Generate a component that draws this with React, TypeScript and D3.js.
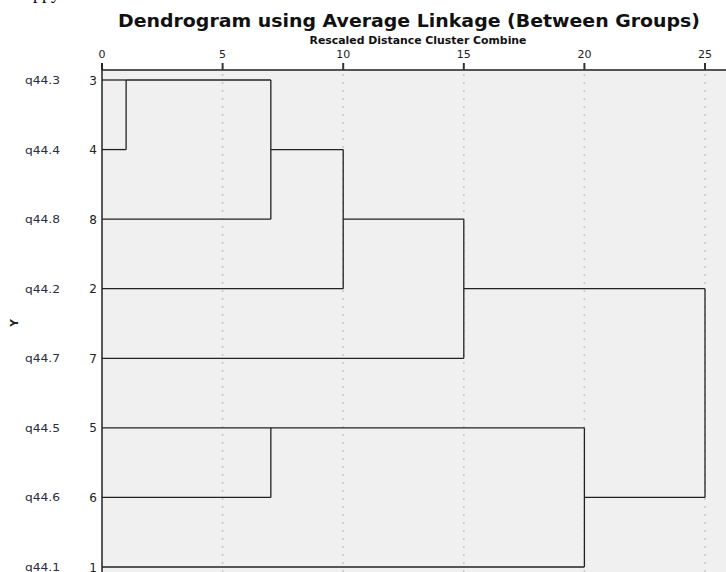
import React from 'react';
import * as d3 from 'd3';

// leaf order top to bottom, as shown in the dendrogram
const labels = ['q44.3', 'q44.4', 'q44.8', 'q44.2', 'q44.7', 'q44.5', 'q44.6', 'q44.1'];
const caseNums = ['3', '4', '8', '2', '7', '5', '6', '1'];

// merges: [child A, child B, rescaled distance]; ids < 8 are leaves, 8+ are earlier merges
const merges: [number, number, number][] = [
  [0, 1, 1],
  [8, 2, 7],
  [9, 3, 10],
  [10, 4, 15],
  [5, 6, 7],
  [12, 7, 20],
  [11, 13, 25],
];

const xTicks = [0, 5, 10, 15, 20, 25];

const W = 726;
const H = 572;
const left = 102;
const axisY = 70;
const font = '"DejaVu Sans", "Lucida Grande", sans-serif';

const App = () => {
  const x = d3.scaleLinear().domain([0, 25]).range([left, 705]);
  const rowIdx = d3.range(labels.length);
  const y = d3.scaleLinear().domain([0, labels.length - 1]).range([80, 567]);

  // each node: row index + x position (distance)
  const nodes: { row: number; d: number }[] = rowIdx.map(i => ({ row: i, d: 0 }));
  const segs: { x1: number; y1: number; x2: number; y2: number }[] = [];
  merges.forEach(([a, b, d]) => {
    const na = nodes[a];
    const nb = nodes[b];
    segs.push({ x1: x(na.d), y1: y(na.row), x2: x(d), y2: y(na.row) });
    segs.push({ x1: x(nb.d), y1: y(nb.row), x2: x(d), y2: y(nb.row) });
    segs.push({ x1: x(d), y1: y(na.row), x2: x(d), y2: y(nb.row) });
    nodes.push({ row: Math.floor((na.row + nb.row) / 2), d });
  });

  return (
    <svg width={W} height={H} style={{ position: 'absolute', left: 0, top: 0 }}>
      <rect width={W} height={H} fill="#fff" />
      <text x={33} y={-1} fontFamily="serif" fontSize={18}>ppy</text>
      <text x={409} y={27} textAnchor="middle" fontFamily={font} fontWeight="bold" fontSize={17}
        textLength={582} lengthAdjust="spacingAndGlyphs" fill="#111">
        Dendrogram using Average Linkage (Between Groups)
      </text>
      <text x={418} y={44} textAnchor="middle" fontFamily={font} fontWeight="bold" fontSize={10.5}
        textLength={217} lengthAdjust="spacingAndGlyphs" fill="#111">
        Rescaled Distance Cluster Combine
      </text>

      <rect x={left} y={axisY} width={W - left} height={H - axisY} fill="#f0f0f0" />

      {xTicks.filter(t => t > 0).map(t => (
        <line key={'g' + t} x1={x(t)} x2={x(t)} y1={axisY + 4} y2={H} stroke="#c8c8c8"
          strokeWidth={1.5} strokeDasharray="2,6" />
      ))}

      <line x1={left} x2={W} y1={axisY} y2={axisY} stroke="#555" strokeWidth={2} />
      {xTicks.map(t => (
        <g key={'t' + t}>
          <line x1={x(t)} x2={x(t)} y1={63} y2={axisY} stroke="#333" strokeWidth={2} />
          <text x={x(t)} y={58} textAnchor="middle" fontFamily={font} fontSize={11} fill="#222">{t}</text>
        </g>
      ))}
      <line x1={left} x2={left} y1={63} y2={H} stroke="#222" strokeWidth={1.5} />

      {rowIdx.map(i => (
        <g key={'r' + i}>
          <text x={25} y={y(i) + 4} fontFamily={font} fontSize={10.5} fill="#2a2d40"
            textLength={35} lengthAdjust="spacingAndGlyphs">{labels[i]}</text>
          <text x={97} y={y(i) + 4.5} textAnchor="end" fontFamily={font} fontSize={12} fill="#222">{caseNums[i]}</text>
        </g>
      ))}

      <text transform="translate(18,323) rotate(-90)" textAnchor="middle" fontFamily={font} fontSize={10.5}
        fontWeight="bold" fill="#222">Y</text>

      {segs.map((s, i) => (
        <line key={'s' + i} x1={s.x1} y1={s.y1} x2={s.x2} y2={s.y2} stroke="#222" strokeWidth={1.3} />
      ))}
    </svg>
  );
};

export default App;
